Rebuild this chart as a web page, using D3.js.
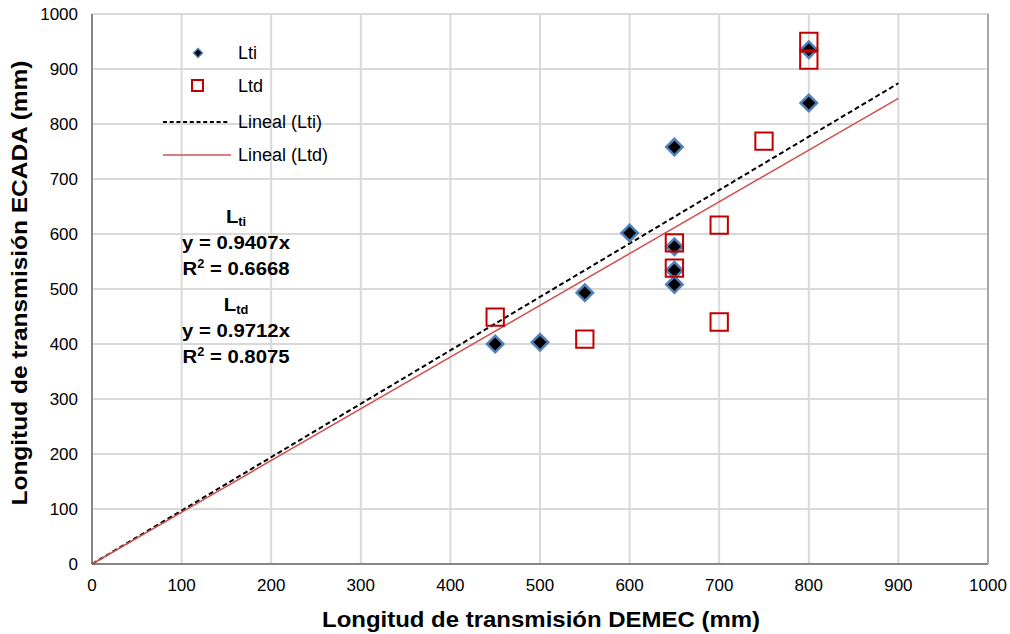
<!DOCTYPE html>
<html><head><meta charset="utf-8">
<script src="https://cdn.jsdelivr.net/npm/d3@7"></script>
<style>body{margin:0;background:#fff}svg{font-family:"Liberation Sans",Arial,sans-serif}</style>
</head><body><svg id="c" width="1010" height="634"></svg>
<script>
const ltiX = [450, 500, 550, 600, 650, 650, 650, 650, 800, 800];
const ltiY = [400, 403, 493, 602, 758, 577, 534, 508, 838, 935];
const ltdX = [450, 550, 650, 650, 700, 700, 750, 800, 800];
const ltdY = [449, 409, 584, 538, 616, 440, 769, 950, 916];
const trendNames = ["Lineal (Lti)", "Lineal (Ltd)"];
const trendSlopes = [0.9712, 0.9407];
const trendEnd = 900;
const xTicks = [0,100,200,300,400,500,600,700,800,900,1000];
const yTicks = [0,100,200,300,400,500,600,700,800,900,1000];
const annot = [["L","ti"],["y = 0.9407x"],["R","2"," = 0.6668"],["L","td"],["y = 0.9712x"],["R","2"," = 0.8075"]];

const svg = d3.select("#c");
const x = d3.scaleLinear().domain([0,1000]).range([92,988]);
const y = d3.scaleLinear().domain([0,1000]).range([564,14]);

// grid
svg.append("g").selectAll("line").data(xTicks.slice(1,-1)).join("line")
  .attr("x1",d=>x(d)).attr("x2",d=>x(d)).attr("y1",y(0)).attr("y2",y(1000))
  .attr("stroke","#d9d9d9").attr("stroke-width",2);
svg.append("g").selectAll("line").data(yTicks.slice(1)).join("line")
  .attr("x1",x(0)).attr("x2",x(1000)).attr("y1",d=>y(d)).attr("y2",d=>y(d))
  .attr("stroke","#d9d9d9").attr("stroke-width",2);
// frame axes
svg.append("line").attr("x1",x(0)).attr("x2",x(0)).attr("y1",y(0)).attr("y2",y(1000)).attr("stroke","#868686").attr("stroke-width",2);
svg.append("line").attr("x1",x(0)).attr("x2",x(1000)).attr("y1",y(0)).attr("y2",y(0)).attr("stroke","#868686").attr("stroke-width",2);
svg.append("line").attr("x1",x(1000)).attr("x2",x(1000)).attr("y1",y(0)).attr("y2",y(1000)).attr("stroke","#a6a6a6").attr("stroke-width",2);

// tick labels
svg.append("g").selectAll("text").data(xTicks).join("text")
  .attr("x",d=>x(d)).attr("y",591).attr("text-anchor","middle")
  .attr("font-size",17).attr("fill","#000").text(d=>d);
svg.append("g").selectAll("text").data(yTicks).join("text")
  .attr("x",78).attr("y",d=>y(d)+6).attr("text-anchor","end")
  .attr("font-size",17).attr("fill","#000").text(d=>d);

// axis titles
svg.append("text").attr("x",541).attr("y",627).attr("text-anchor","middle")
  .attr("font-size",22).attr("font-weight","bold")
  .attr("textLength",438).attr("lengthAdjust","spacingAndGlyphs")
  .text("Longitud de transmisión DEMEC (mm)");
svg.append("text").attr("transform","translate(27,283) rotate(-90)").attr("text-anchor","middle")
  .attr("font-size",22).attr("font-weight","bold")
  .attr("textLength",445).attr("lengthAdjust","spacingAndGlyphs")
  .text("Longitud de transmisión ECADA (mm)");

// trend lines
const dashes = ["5,3", null];
const tcol = ["#000", "#d05050"];
const tw = [2, 1.5];
trendSlopes.forEach((s,i)=>{
  svg.append("line").attr("x1",x(0)).attr("y1",y(0)).attr("x2",x(trendEnd)).attr("y2",y(s*trendEnd))
    .attr("stroke",tcol[i]).attr("stroke-width",tw[i]).attr("stroke-dasharray",dashes[i]);
});

const ltiData = ltiX.map((v,i)=>[v,ltiY[i]]);
const ltdData = ltdX.map((v,i)=>[v,ltdY[i]]);
// diamonds
svg.append("g").selectAll("path").data(ltiData).join("path")
  .attr("d", d3.symbol().type(d3.symbolSquare).size(135)())
  .attr("transform",d=>`translate(${x(d[0])},${y(d[1])}) rotate(45)`)
  .attr("fill","#000").attr("stroke","#4f81bd").attr("stroke-width",2.5);
// squares
svg.append("g").selectAll("path").data(ltdData).join("path")
  .attr("d", d3.symbol().type(d3.symbolSquare).size(300)())
  .attr("transform",d=>`translate(${x(d[0])},${y(d[1])})`)
  .attr("fill","none").attr("stroke","#c00000").attr("stroke-width",2);

// legend
const lg = svg.append("g");
lg.append("path").attr("d", d3.symbol().type(d3.symbolSquare).size(40)())
  .attr("transform","translate(198,53) rotate(45)").attr("fill","#000").attr("stroke","#4f81bd").attr("stroke-width",1.5);
lg.append("rect").attr("x",192).attr("y",80).attr("width",11).attr("height",11)
  .attr("fill","none").attr("stroke","#c00000").attr("stroke-width",2);
lg.append("line").attr("x1",163).attr("x2",230).attr("y1",122).attr("y2",122).attr("stroke","#000").attr("stroke-width",2).attr("stroke-dasharray","4,2.7");
lg.append("line").attr("x1",163).attr("x2",231).attr("y1",155).attr("y2",155).attr("stroke","#d05050").attr("stroke-width",1.5);
const legNames = ["Lti","Ltd",trendNames[0],trendNames[1]];
const legY = [59,92,128,161];
legNames.forEach((t,i)=>lg.append("text").attr("x",238).attr("y",legY[i]).attr("font-size",18).text(t));

// annotations
const ay = [223,249,275,311,337,363];
annot.forEach((a,i)=>{
  const t = svg.append("text").attr("transform",`translate(236,${ay[i]}) scale(1.07,1)`).attr("text-anchor","middle")
    .attr("font-size",19).attr("font-weight","bold");
  if(a.length===1){ t.text(a[0]); }
  else if(a[0]==="L"){ t.append("tspan").text("L"); t.append("tspan").attr("font-size",12).attr("dy",3).text(a[1]); }
  else { t.append("tspan").text(a[0]); t.append("tspan").attr("font-size",12).attr("dy",-7).text(a[1]); t.append("tspan").attr("dy",7).text(a[2]); }
});
</script></body></html>
